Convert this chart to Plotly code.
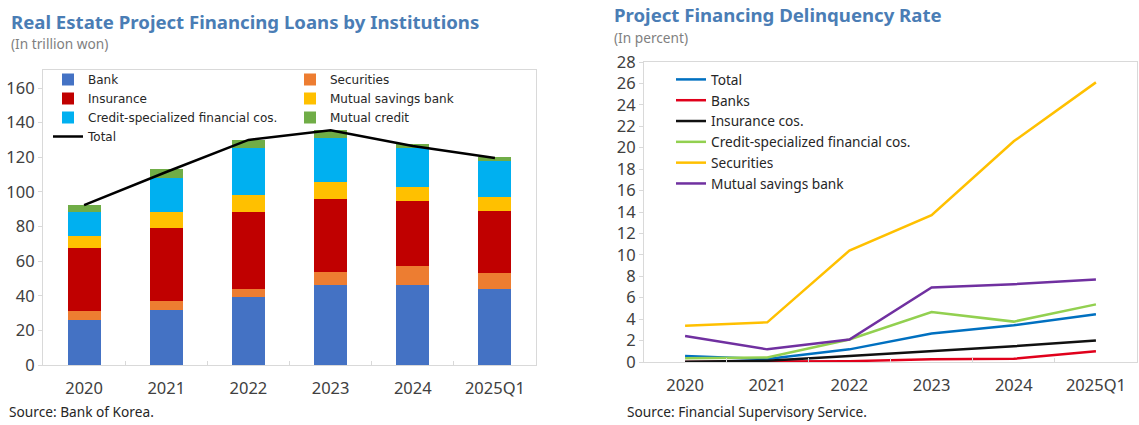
import plotly.graph_objects as go

W, H = 1139, 425

years = ["2020", "2021", "2022", "2023", "2024", "2025Q1"]

# Real estate PF loans by institution (trillion won)
bank = [26.0, 32.0, 39.5, 46.0, 46.3, 44.0]
securities = [5.0, 5.0, 4.2, 7.8, 10.6, 9.2]
insurance = [36.7, 42.3, 44.5, 42.1, 37.9, 35.9]
savings_bank = [6.8, 9.1, 10.2, 9.6, 8.1, 7.7]
credit_specialized = [13.6, 19.8, 26.9, 25.9, 22.3, 21.2]
mutual_credit = [4.3, 4.8, 4.8, 4.3, 2.5, 1.9]
loans_total = [92.3, 111.5, 130.0, 135.6, 126.5, 119.6]

# PF delinquency rate (percent)
rate_total = [0.55, 0.28, 1.18, 2.65, 3.43, 4.46]
rate_banks = [0.0, 0.02, 0.08, 0.25, 0.30, 1.0]
rate_insurance = [0.03, 0.12, 0.55, 1.0, 1.47, 2.0]
rate_credit = [0.35, 0.42, 2.1, 4.67, 3.77, 5.38]
rate_securities = [3.39, 3.7, 10.4, 13.7, 20.6, 26.1]
rate_savings = [2.43, 1.18, 2.1, 6.95, 7.26, 7.7]

FONT = "Noto Sans"
TEXT = "#404040"
BORDER = "#d9d9d9"
TITLE_BLUE = "#4a7db5"


def px_x(p):
    return p / W


def px_y(p):
    return 1 - p / H


fig = go.Figure()

bar_series = [
    ("Bank", bank, "#4472c4", "legend"),
    ("Securities", securities, "#ed7d31", "legend2"),
    ("Insurance", insurance, "#c00000", "legend"),
    ("Mutual savings bank", savings_bank, "#ffc000", "legend2"),
    ("Credit-specialized financial cos.", credit_specialized, "#00b0f0", "legend"),
    ("Mutual credit", mutual_credit, "#70ad47", "legend2"),
]
for name, vals, color, lg in bar_series:
    fig.add_trace(go.Bar(
        x=years, y=vals, name=name, marker=dict(color=color, line_width=0),
        xaxis="x", yaxis="y", legend=lg,
    ))

fig.add_trace(go.Scatter(
    x=years, y=loans_total, name="Total", mode="lines",
    line=dict(color="black", width=2.5), xaxis="x", yaxis="y", legend="legend",
))

line_series = [
    ("Total", rate_total, "#0070c0"),
    ("Banks", rate_banks, "#e0001b"),
    ("Insurance cos.", rate_insurance, "#111111"),
    ("Credit-specialized financial cos.", rate_credit, "#92d050"),
    ("Securities", rate_securities, "#ffc000"),
    ("Mutual savings bank", rate_savings, "#7030a0"),
]
for name, vals, color in line_series:
    fig.add_trace(go.Scatter(
        x=years, y=vals, name=name, mode="lines",
        line=dict(color=color, width=2.5), xaxis="x2", yaxis="y2", legend="legend3",
    ))

axis_common = dict(
    showline=True, linecolor=BORDER, linewidth=1, mirror=True,
    showgrid=False, zeroline=False, automargin=False,
    tickfont=dict(family=FONT, size=16.5, color=TEXT),
)

legend_common = dict(
    xanchor="left", yanchor="top", bgcolor="rgba(0,0,0,0)",
    traceorder="normal", itemwidth=30, tracegroupgap=0,
)

fig.update_layout(
    width=W, height=H,
    margin=dict(l=0, r=0, t=0, b=0, autoexpand=False),
    paper_bgcolor="white", plot_bgcolor="white",
    font=dict(family=FONT, color=TEXT),
    barmode="stack", bargap=0.6,
    showlegend=True,
    xaxis=dict(
        domain=[px_x(43), px_x(536)], anchor="y", type="category",
        ticks="inside", tickson="boundaries", ticklen=4, tickcolor=BORDER,
        ticklabelstandoff=8, **axis_common,
    ),
    yaxis=dict(
        domain=[px_y(365), px_y(70)], anchor="x", range=[0, 170.4],
        tickvals=list(range(0, 161, 20)),
        ticks="outside", ticklen=4, tickcolor=BORDER, **axis_common,
    ),
    xaxis2=dict(
        domain=[px_x(644), px_x(1137)], anchor="y2", type="category",
        range=[-0.5, 5.5],
        ticks="inside", tickson="boundaries", ticklen=4, tickcolor=BORDER,
        ticklabelstandoff=8, **axis_common,
    ),
    yaxis2=dict(
        domain=[px_y(362), px_y(62)], anchor="x2", range=[0, 28],
        tickvals=list(range(0, 29, 2)),
        ticks="outside", ticklen=4, tickcolor=BORDER, **axis_common,
    ),
    legend=dict(
        x=px_x(48), y=px_y(65),
        font=dict(family="DejaVu Sans", size=12, color="#262626"), **legend_common,
    ),
    legend2=dict(
        x=px_x(290), y=px_y(65),
        font=dict(family="DejaVu Sans", size=12, color="#262626"), **legend_common,
    ),
    legend3=dict(
        x=px_x(671), y=px_y(64),
        font=dict(family=FONT, size=13.7, color="#262626"), **legend_common,
    ),
)

annotations = [
    dict(text="<b>Real Estate Project Financing Loans by Institutions</b>",
         x=px_x(9), y=px_y(21), font=dict(size=18.6, color=TITLE_BLUE)),
    dict(text="(In trillion won)", x=px_x(9), y=px_y(44),
         font=dict(size=13.7, color="#7f7f7f")),
    dict(text="<b>Project Financing Delinquency Rate</b>",
         x=px_x(612), y=px_y(15), font=dict(size=18.6, color=TITLE_BLUE)),
    dict(text="(In percent)", x=px_x(612), y=px_y(38),
         font=dict(size=13.7, color="#7f7f7f")),
    dict(text="Source: Bank of Korea.", x=px_x(7), y=px_y(411),
         font=dict(size=13.7, color="#262626")),
    dict(text="Source: Financial Supervisory Service.", x=px_x(625), y=px_y(411),
         font=dict(size=13.7, color="#262626")),
]
for a in annotations:
    a["font"]["family"] = FONT
    fig.add_annotation(xref="paper", yref="paper", xanchor="left", yanchor="middle",
                       showarrow=False, **a)

fig.write_html("out.html")
